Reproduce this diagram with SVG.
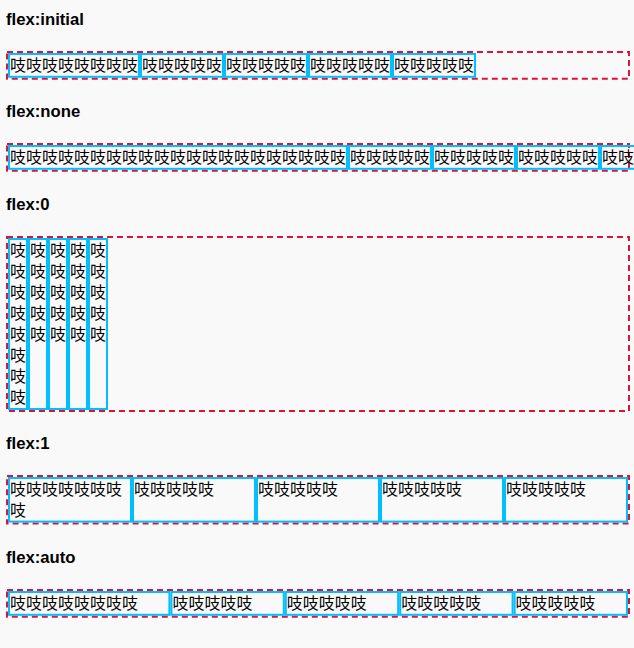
<svg xmlns="http://www.w3.org/2000/svg" width="634" height="648" viewBox="0 0 634 648">
<style>
.bg{fill:#f9f9f9}
.h{font-family:"Liberation Sans",Arial,sans-serif;font-weight:bold;font-size:16.7px;fill:#000}
.box{fill:none;stroke:#dc143c;stroke-width:2;stroke-dasharray:6 4}
.it{fill:none;stroke:#00bfff;stroke-width:2}
.t{font-family:"Noto Sans CJK SC","Microsoft YaHei",sans-serif;font-size:16px;fill:#000}
</style>
<rect class="bg" x="0" y="0" width="634" height="648"/>

<g id="sec-initial">
<text class="h" x="6" y="25">flex:initial</text>
<rect class="box" x="7" y="52" width="622" height="26.8"/>
<g id="initial-1"><rect class="it" x="9" y="54" width="130" height="22.8"/><text class="t" x="10" y="71">吱吱吱吱吱吱吱吱</text></g>
<g id="initial-2"><rect class="it" x="141" y="54" width="82" height="22.8"/><text class="t" x="142" y="71">吱吱吱吱吱</text></g>
<g id="initial-3"><rect class="it" x="225" y="54" width="82" height="22.8"/><text class="t" x="226" y="71">吱吱吱吱吱</text></g>
<g id="initial-4"><rect class="it" x="309" y="54" width="82" height="22.8"/><text class="t" x="310" y="71">吱吱吱吱吱</text></g>
<g id="initial-5"><rect class="it" x="393" y="54" width="82" height="22.8"/><text class="t" x="394" y="71">吱吱吱吱吱</text></g>
</g>

<g id="sec-none">
<text class="h" x="6" y="117">flex:none</text>
<rect class="box" x="7" y="144" width="622" height="26.8"/>
<g id="none-1"><rect class="it" x="9" y="146" width="338" height="22.8"/><text class="t" x="10" y="163">吱吱吱吱吱吱吱吱吱吱吱吱吱吱吱吱吱吱吱吱吱</text></g>
<g id="none-2"><rect class="it" x="349" y="146" width="82" height="22.8"/><text class="t" x="350" y="163">吱吱吱吱吱</text></g>
<g id="none-3"><rect class="it" x="433" y="146" width="82" height="22.8"/><text class="t" x="434" y="163">吱吱吱吱吱</text></g>
<g id="none-4"><rect class="it" x="517" y="146" width="82" height="22.8"/><text class="t" x="518" y="163">吱吱吱吱吱</text></g>
<g id="none-5"><rect class="it" x="601" y="146" width="82" height="22.8"/><text class="t" x="602" y="163">吱吱吱吱吱</text></g>
</g>

<g id="sec-0">
<text class="h" x="6" y="210">flex:0</text>
<rect class="box" x="7" y="237" width="622" height="174"/>
<g id="zero-1"><rect class="it" x="9" y="239" width="18" height="170"/>
<text class="t" x="10" y="256">吱</text><text class="t" x="10" y="277">吱</text><text class="t" x="10" y="298">吱</text><text class="t" x="10" y="319">吱</text><text class="t" x="10" y="340">吱</text><text class="t" x="10" y="361">吱</text><text class="t" x="10" y="382">吱</text><text class="t" x="10" y="403">吱</text></g>
<g id="zero-2"><rect class="it" x="29" y="239" width="18" height="170"/>
<text class="t" x="30" y="256">吱</text><text class="t" x="30" y="277">吱</text><text class="t" x="30" y="298">吱</text><text class="t" x="30" y="319">吱</text><text class="t" x="30" y="340">吱</text></g>
<g id="zero-3"><rect class="it" x="49" y="239" width="18" height="170"/>
<text class="t" x="50" y="256">吱</text><text class="t" x="50" y="277">吱</text><text class="t" x="50" y="298">吱</text><text class="t" x="50" y="319">吱</text><text class="t" x="50" y="340">吱</text></g>
<g id="zero-4"><rect class="it" x="69" y="239" width="18" height="170"/>
<text class="t" x="70" y="256">吱</text><text class="t" x="70" y="277">吱</text><text class="t" x="70" y="298">吱</text><text class="t" x="70" y="319">吱</text><text class="t" x="70" y="340">吱</text></g>
<g id="zero-5"><rect class="it" x="89" y="239" width="18" height="170"/>
<text class="t" x="90" y="256">吱</text><text class="t" x="90" y="277">吱</text><text class="t" x="90" y="298">吱</text><text class="t" x="90" y="319">吱</text><text class="t" x="90" y="340">吱</text></g>
</g>

<g id="sec-1">
<text class="h" x="6" y="449">flex:1</text>
<rect class="box" x="7" y="476" width="622" height="47.6"/>
<g id="one-1"><rect class="it" x="9" y="478" width="122" height="43.6"/><text class="t" x="10" y="495">吱吱吱吱吱吱吱</text><text class="t" x="10" y="516">吱</text></g>
<g id="one-2"><rect class="it" x="133" y="478" width="122" height="43.6"/><text class="t" x="134" y="495">吱吱吱吱吱</text></g>
<g id="one-3"><rect class="it" x="257" y="478" width="122" height="43.6"/><text class="t" x="258" y="495">吱吱吱吱吱</text></g>
<g id="one-4"><rect class="it" x="381" y="478" width="122" height="43.6"/><text class="t" x="382" y="495">吱吱吱吱吱</text></g>
<g id="one-5"><rect class="it" x="505" y="478" width="122" height="43.6"/><text class="t" x="506" y="495">吱吱吱吱吱</text></g>
</g>

<g id="sec-auto">
<text class="h" x="6" y="563">flex:auto</text>
<rect class="box" x="7" y="590" width="622" height="26.8"/>
<g id="auto-1"><rect class="it" x="9" y="592" width="160.4" height="22.8"/><text class="t" x="10" y="609">吱吱吱吱吱吱吱吱</text></g>
<g id="auto-2"><rect class="it" x="171.4" y="592" width="112.4" height="22.8"/><text class="t" x="172.4" y="609">吱吱吱吱吱</text></g>
<g id="auto-3"><rect class="it" x="285.8" y="592" width="112.4" height="22.8"/><text class="t" x="286.8" y="609">吱吱吱吱吱</text></g>
<g id="auto-4"><rect class="it" x="400.2" y="592" width="112.4" height="22.8"/><text class="t" x="401.2" y="609">吱吱吱吱吱</text></g>
<g id="auto-5"><rect class="it" x="514.6" y="592" width="112.4" height="22.8"/><text class="t" x="515.6" y="609">吱吱吱吱吱</text></g>
</g>
</svg>
